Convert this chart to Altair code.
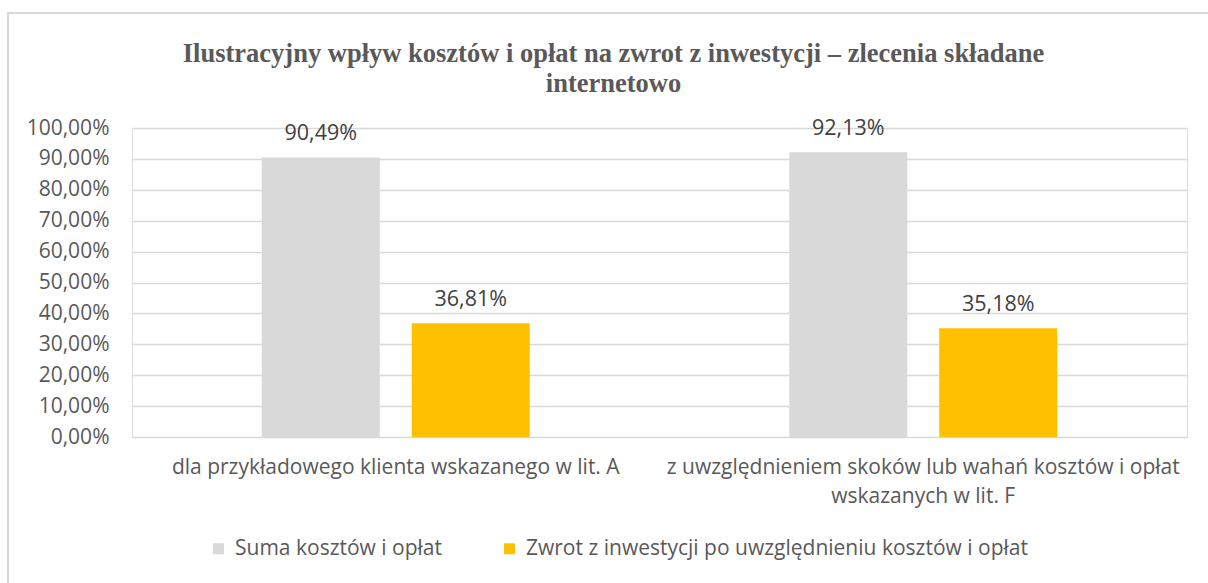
import altair as alt
import pandas as pd

categories = [
    "dla przykładowego klienta wskazanego w lit. A",
    "z uwzględnieniem skoków lub wahań kosztów i opłat|wskazanych w lit. F",
]
series = [
    "Suma kosztów i opłat",
    "Zwrot z inwestycji po uwzględnieniu kosztów i opłat",
]
values_suma = [0.9049, 0.9213]
values_zwrot = [0.3681, 0.3518]
y_ticks = [0, 0.1, 0.2, 0.3, 0.4, 0.5, 0.6, 0.7, 0.8, 0.9, 1.0]
colors = ["#d9d9d9", "#ffc000"]

rows = []
for i, c in enumerate(categories):
    rows.append({"kategoria": c, "seria": series[0], "wartosc": values_suma[i]})
    rows.append({"kategoria": c, "seria": series[1], "wartosc": values_zwrot[i]})
df = pd.DataFrame(rows)

FONT = "Open Sans"
TXT = "#595959"
FS = 21

base = alt.Chart(df).transform_calculate(
    etykieta="replace(format(datum.wartosc, '.2%'), '.', ',')"
).encode(
    x=alt.X(
        "kategoria:N",
        sort=categories,
        scale=alt.Scale(paddingInner=0.492, paddingOuter=0.246),
        axis=alt.Axis(
            title=None,
            labelAngle=0,
            labelExpr="split(datum.label, '|')",
            labelFont=FONT,
            labelFontSize=FS,
            labelColor=TXT,
            labelLineHeight=29,
            labelPadding=19,
            labelLimit=1000,
            ticks=False,
            domain=False,
            grid=False,
        ),
    ),
    xOffset=alt.XOffset(
        "seria:N", sort=series, scale=alt.Scale(paddingInner=0.213, paddingOuter=0)
    ),
    y=alt.Y(
        "wartosc:Q",
        scale=alt.Scale(domain=[0, 1]),
        axis=alt.Axis(
            title=None,
            values=y_ticks,
            labelExpr="replace(format(datum.value, '.2%'), '.', ',')",
            labelFont=FONT,
            labelFontSize=FS,
            labelColor=TXT,
            labelPadding=23,
            ticks=False,
            domain=False,
            grid=True,
            gridColor="#d9d9d9",
            gridWidth=1.3,
        ),
    ),
)

bars = base.mark_bar().encode(
    color=alt.Color(
        "seria:N",
        sort=series,
        scale=alt.Scale(domain=series, range=colors),
        legend=alt.Legend(
            title=None,
            orient="none",
            legendX=76,
            legendY=410,
            direction="horizontal",
            symbolType="square",
            symbolSize=121,
            symbolStrokeWidth=0,
            labelFont=FONT,
            labelFontSize=FS,
            labelColor=TXT,
            labelOffset=6,
            columnPadding=56,
            labelLimit=1000,
        ),
    )
)

labels = base.mark_text(
    baseline="middle", dy=-23, font=FONT, fontSize=21.5, color="#404040"
).encode(text="etykieta:N")

frame = alt.Chart(pd.DataFrame({"r": [0]})).mark_rect(
    filled=False, stroke="#d9d9d9", strokeWidth=2, clip=False
).encode(
    x=alt.value(-124), x2=alt.value(1085), y=alt.value(-115), y2=alt.value(470)
)

chart = alt.layer(frame, bars, labels).properties(
    width=1055,
    height=309,
    autosize=alt.AutoSizeParams(type="none"),
    padding={"left": 132, "top": 128, "right": 21, "bottom": 146},
    title=alt.TitleParams(
        text=[
            "Ilustracyjny wpływ kosztów i opłat na zwrot z inwestycji – zlecenia składane",
            "internetowo",
        ],
        font="Liberation Serif",
        fontSize=26.5,
        fontWeight="bold",
        color=TXT,
        lineHeight=30,
        anchor="middle",
        dx=-46,
        offset=-85,
    ),
).configure_view(strokeWidth=0).configure(background="white")

chart.save("out.html", embed_options={"renderer": "svg", "actions": False})
